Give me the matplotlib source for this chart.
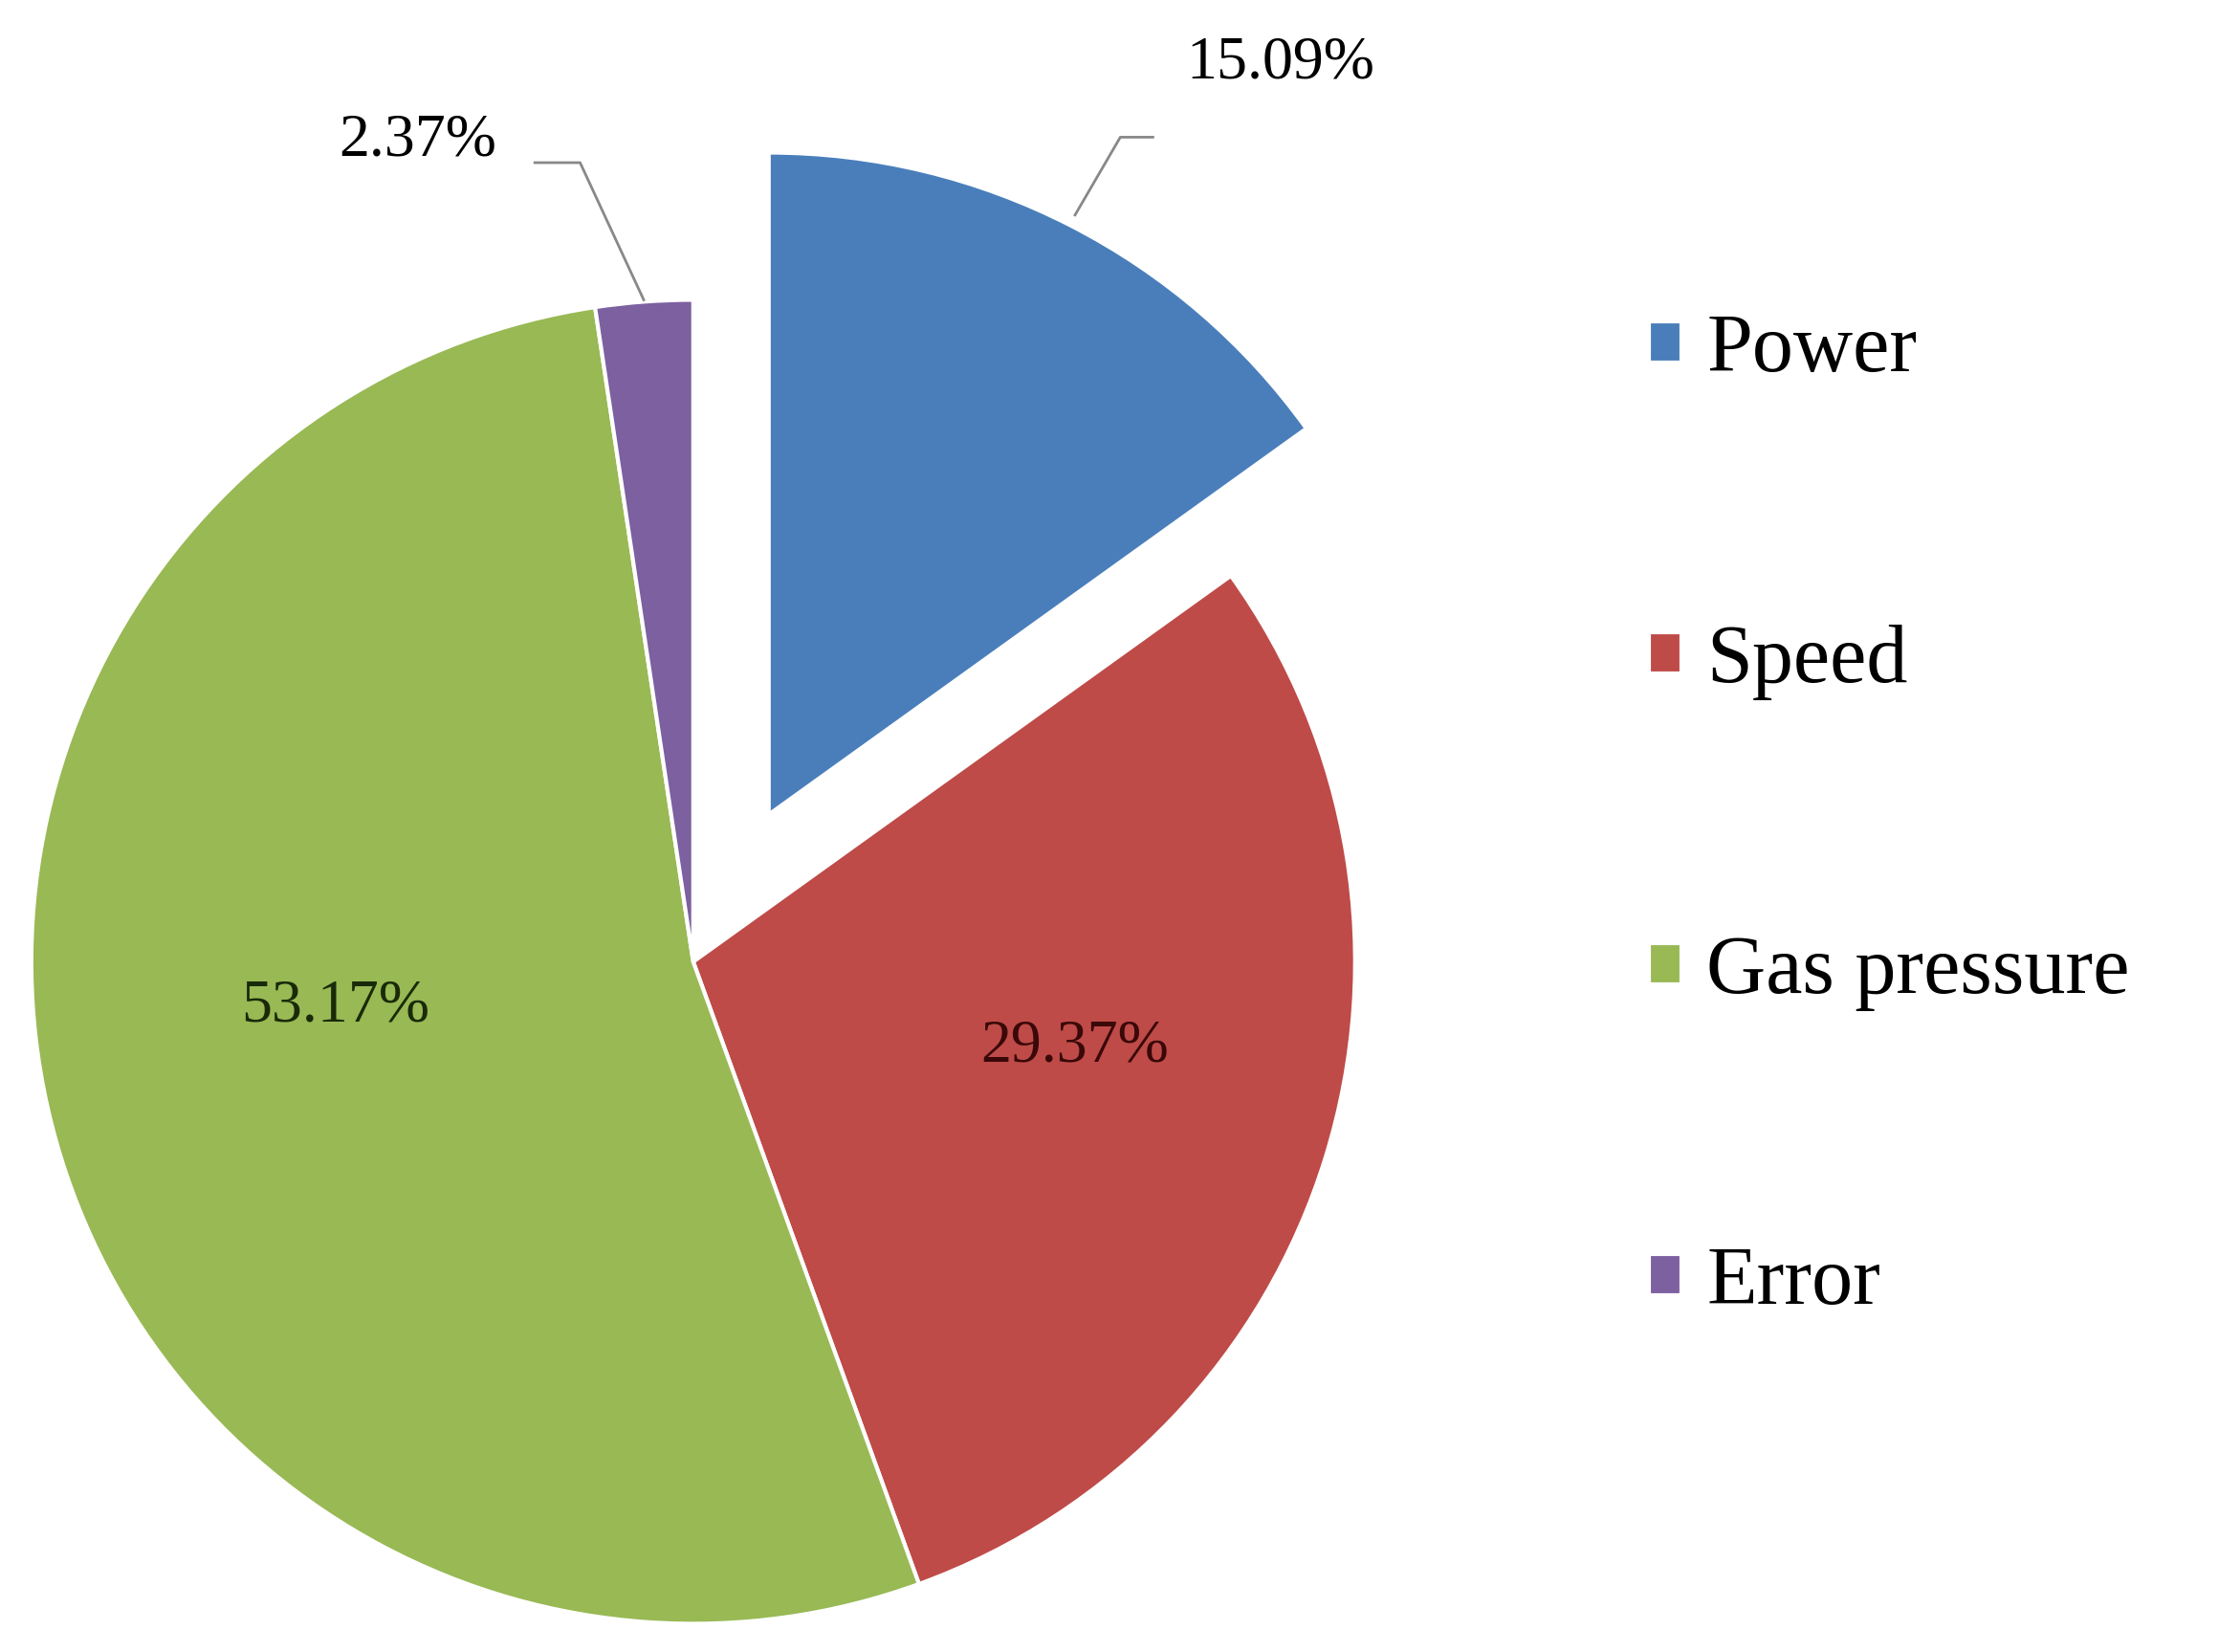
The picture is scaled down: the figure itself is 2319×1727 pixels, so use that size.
import matplotlib.pyplot as plt

labels = ["Power", "Speed", "Gas pressure", "Error"]
values = [15.09, 29.37, 53.17, 2.37]
colors = ["#4a7ebb", "#be4b48", "#98b954", "#7d60a0"]
radius = 468
explode = [0.25 * radius, 0, 0, 0]  # pie offsets are in data units

plt.rcParams["font.family"] = ["Liberation Serif", "DejaVu Serif"]

fig = plt.figure(figsize=(23.19, 17.27), dpi=100)
ax = fig.add_axes([0, 0, 1, 1])

wedges, _ = ax.pie(values, colors=colors, explode=explode, startangle=90,
                   counterclock=False, center=(490, 488), radius=radius,
                   wedgeprops=dict(edgecolor="white", linewidth=3), frame=True)
ax.set_xlim(0, 1568)
ax.set_ylim(0, 1168)
ax.set_aspect("equal")
ax.axis("off")

# percentage labels
ax.text(237, 1168 - 712, "53.17%", fontsize=46, ha="center", va="center", color="#1a2a08")
ax.text(760, 1168 - 740, "29.37%", fontsize=46, ha="center", va="center", color="#3a0808")
ax.text(905, 1168 - 45, "15.09%", fontsize=46, ha="center", va="center")
ax.text(295, 1168 - 100, "2.37%", fontsize=46, ha="center", va="center")
ax.plot([760, 792, 815], [1168 - 152, 1168 - 97, 1168 - 97], color="#888888", lw=2)
ax.plot([455, 410, 378], [1168 - 212, 1168 - 115, 1168 - 115], color="#888888", lw=2)

ax.legend(wedges, labels, loc="upper left", bbox_to_anchor=(0.71, 0.855),
          frameon=False, fontsize=62, labelspacing=2.85,
          handlelength=0.4, handleheight=0.4, handletextpad=0.3)

fig.savefig("out.png", dpi=100)
